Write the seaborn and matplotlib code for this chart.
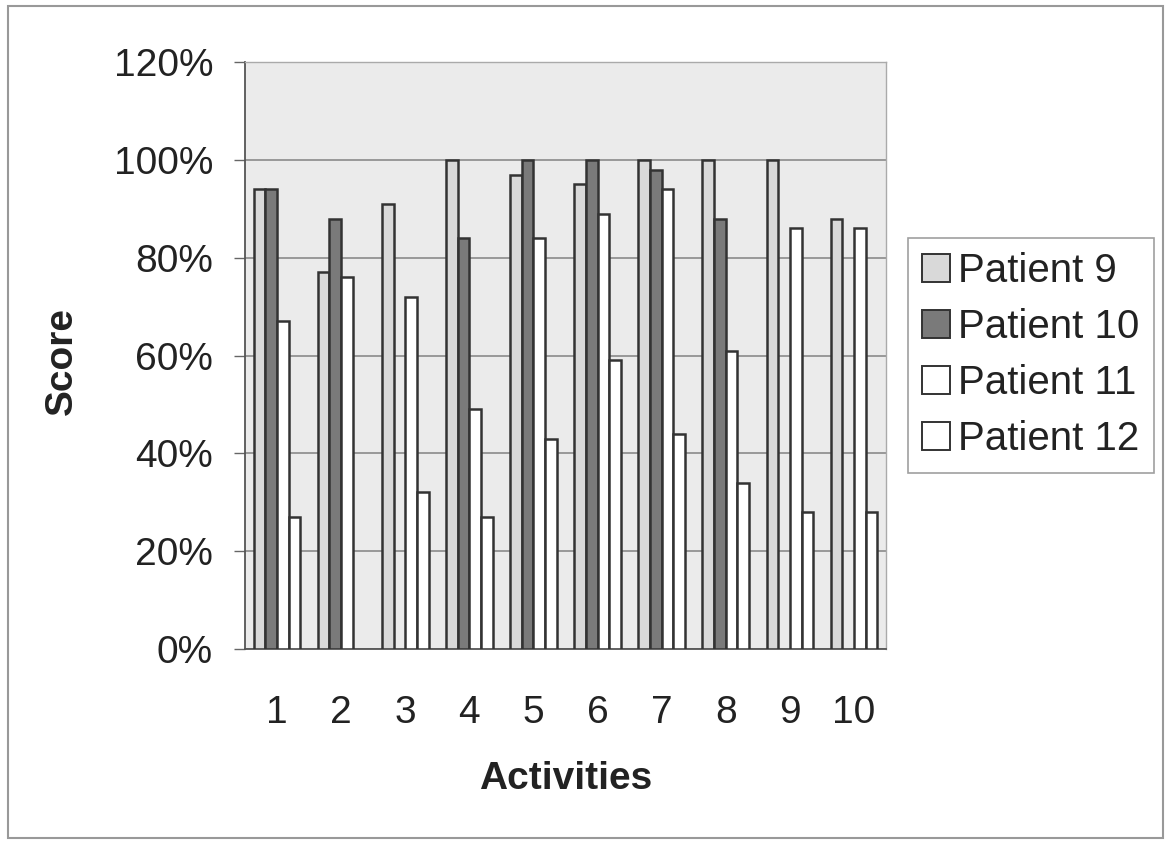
import numpy as np
import pandas as pd
import matplotlib
matplotlib.use("Agg")
import matplotlib.pyplot as plt
import matplotlib.ticker as mticker
from matplotlib.patches import Rectangle, Patch
import seaborn as sns

activities = ["1", "2", "3", "4", "5", "6", "7", "8", "9", "10"]
patients = ["Patient 9", "Patient 10", "Patient 11", "Patient 12"]

# scores in %, NaN where no bar is drawn
patient_9 = [94, 77, 91, 100, 97, 95, 100, 100, 100, 88]
patient_10 = [94, 88, np.nan, 84, 100, 100, 98, 88, np.nan, np.nan]
patient_11 = [67, 76, 72, 49, 84, 89, 94, 61, 86, 86]
patient_12 = [27, np.nan, 32, 27, 43, 59, 44, 34, 28, 28]

colors = ["#d9d9d9", "#7a7a7a", "#ffffff", "#ffffff"]

rows = []
for name, vals in zip(patients, [patient_9, patient_10, patient_11, patient_12]):
    for act, v in zip(activities, vals):
        rows.append({"Activities": act, "Patient": name, "Score": v / 100})
df = pd.DataFrame(rows)

sns.set_style("white")
plt.rcParams["font.family"] = ["Liberation Sans", "DejaVu Sans"]

fig = plt.figure(figsize=(11.72, 8.41), dpi=100)
ax = fig.add_axes([245 / 1172, 1 - 649 / 841, 641 / 1172, 587 / 841])
ax.set_facecolor("#ebebeb")

sns.barplot(data=df, x="Activities", y="Score", hue="Patient", order=activities,
            hue_order=patients, palette=colors, width=0.727, gap=0,
            edgecolor="#333333", linewidth=1.8, errorbar=None, legend=False, ax=ax,
            zorder=3)

ax.set_ylim(0, 1.2)
ax.set_xlim(-0.5, len(activities) - 0.5)
ax.set_yticks(np.arange(0, 1.21, 0.2))
ax.yaxis.set_major_formatter(mticker.PercentFormatter(1.0, decimals=0))
ax.grid(axis="y", color="#8a8a8a", linewidth=1.2, zorder=0)
ax.set_axisbelow(True)

# tick marks between categories
ax.set_xticks(np.arange(-0.5, len(activities), 1), minor=True)
ax.tick_params(axis="x", which="major", length=0, pad=33, labelsize=28, colors="#222222")
ax.tick_params(axis="x", which="minor", length=10, width=1, color="#666666", direction="out")
ax.tick_params(axis="y", which="major", length=8, width=1, color="#666666", pad=15,
               labelsize=28, labelcolor="#222222", left=True)

for side in ["left", "bottom"]:
    ax.spines[side].set_color("#555555")
    ax.spines[side].set_linewidth(1.3)
for side in ["top", "right"]:
    ax.spines[side].set_color("#aaaaaa")
    ax.spines[side].set_linewidth(1)

ax.set_xlabel("Activities", fontsize=28, fontweight="bold", color="#222222")
ax.set_ylabel("Score", fontsize=28, fontweight="bold", color="#222222")
ax.xaxis.set_label_coords(0.5, -0.222)
ax.xaxis.label.set_va("center")
ax.yaxis.set_label_coords(-0.286, 0.49)
ax.yaxis.label.set_va("center")

handles = [Patch(facecolor=c, edgecolor="#333333", linewidth=1.4) for c in colors]
leg = fig.legend(handles, patients, loc="upper left",
                 bbox_to_anchor=(908 / 1172, 1 - 238 / 841), fontsize=29,
                 frameon=True, fancybox=False, handlelength=0.7, handleheight=0.7,
                 handletextpad=0.2, labelspacing=0.45, borderpad=0.35,
                 borderaxespad=0)
leg.get_frame().set_edgecolor("#888888")
leg.get_frame().set_linewidth(1.2)
for t in leg.get_texts():
    t.set_color("#222222")

fig.patches.append(Rectangle((8 / 1172, 1 - 838 / 841), 1155 / 1172, 832 / 841,
                             transform=fig.transFigure, fill=False,
                             edgecolor="#999999", linewidth=1.5))

fig.savefig("out.png", dpi=100, facecolor="white")
